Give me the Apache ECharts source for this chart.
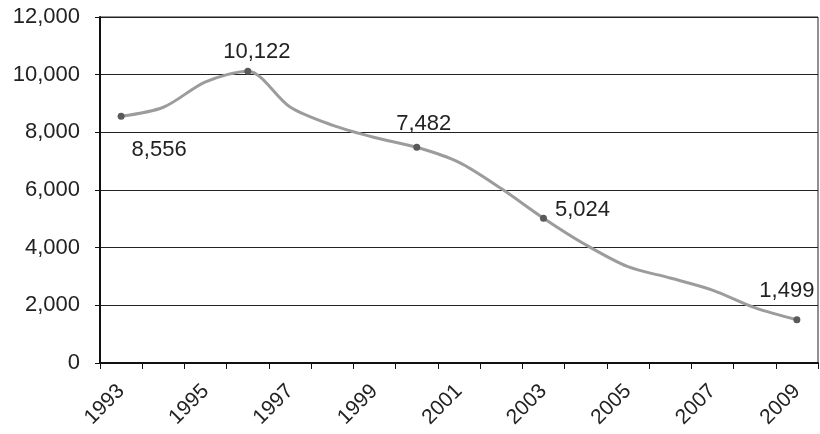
<!DOCTYPE html>
<html>
<head>
<meta charset="utf-8">
<style>
  html, body { margin: 0; padding: 0; background: #fff; }
  #chart { width: 820px; height: 434px; }
</style>
<script src="https://cdn.jsdelivr.net/npm/echarts@6/dist/echarts.min.js"></script>
</head>
<body>
<div id="chart"></div>
<script>
// Yearly totals, 1993–2009
const years = ['1993','1994','1995','1996','1997','1998','1999','2000','2001',
               '2002','2003','2004','2005','2006','2007','2008','2009'];
const values = [8556, 8870, 9750, 10122, 8880, 8250, 7820, 7482, 6960,
                6050, 5024, 4100, 3340, 2950, 2530, 1920, 1499];
// Years that carry a marker and a value label
const labelledYears = ['1993', '1996', '2000', '2003', '2009'];
const yTicks = [0, 2000, 4000, 6000, 8000, 10000, 12000];

const labelOffsets = {
  '1993': [38, 34],
  '1996': [9, -19],
  '2000': [7, -23],
  '2003': [39, -8],
  '2009': [-10, -29]
};

const fmt = v => v.toLocaleString('en-US');

const seriesData = values.map((v, i) => {
  const yr = years[i];
  if (labelledYears.includes(yr)) {
    return {
      value: v,
      symbol: 'circle',
      symbolSize: 7,
      label: {
        show: true,
        position: 'inside',
        offset: labelOffsets[yr],
        formatter: p => fmt(p.value),
        color: '#222',
        fontSize: 22,
        fontFamily: 'Liberation Sans, Arial, sans-serif'
      }
    };
  }
  return { value: v, symbol: 'none' };
});

const chart = echarts.init(document.getElementById('chart'));
chart.setOption({
  animation: false,
  backgroundColor: '#fff',
  grid: {
    left: 100, right: 2, top: 17, bottom: 71,
    show: true, borderColor: '#222', borderWidth: 1
  },
  xAxis: {
    type: 'category',
    data: years,
    boundaryGap: true,
    axisLine: { lineStyle: { color: '#111', width: 2 } },
    axisTick: { show: true, interval: 0, length: 6, lineStyle: { color: '#111', width: 1 } },
    axisLabel: {
      interval: 1,
      rotate: 45,
      margin: 25,
      color: '#222',
      fontSize: 21,
      fontFamily: 'Liberation Sans, Arial, sans-serif'
    },
    splitLine: { show: false }
  },
  yAxis: {
    type: 'value',
    min: yTicks[0],
    max: yTicks[yTicks.length - 1],
    interval: 2000,
    axisLine: { show: true, lineStyle: { color: '#111', width: 2 } },
    axisTick: { show: true, length: 5, lineStyle: { color: '#111' } },
    axisLabel: {
      margin: 20,
      color: '#222',
      fontSize: 22,
      fontFamily: 'Liberation Sans, Arial, sans-serif',
      formatter: v => fmt(v)
    },
    splitLine: { show: true, lineStyle: { color: '#222', width: 1.2 } }
  },
  series: [{
    type: 'line',
    data: seriesData,
    smooth: 0.3,
    lineStyle: { color: '#9c9c9c', width: 3 },
    itemStyle: { color: '#5a5a5a' },
    emphasis: { disabled: true }
  }]
});
</script>
</body>
</html>
